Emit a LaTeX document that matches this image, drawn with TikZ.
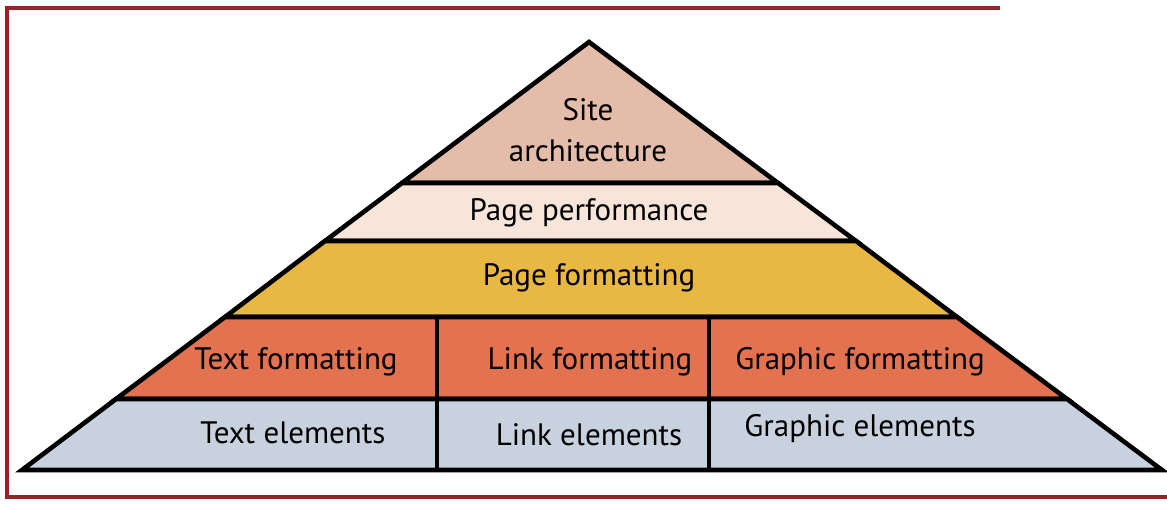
\documentclass[tikz,border=0pt]{standalone}
\usepackage{fontspec}
\setmainfont{PT Sans}
\definecolor{framered}{RGB}{150,35,40}
\definecolor{sitecol}{RGB}{228,188,170}
\definecolor{perfcol}{RGB}{246,229,216}
\definecolor{pagecol}{RGB}{232,184,66}
\definecolor{fmtcol}{RGB}{226,114,80}
\definecolor{elemcol}{RGB}{200,210,222}
\tikzset{
  layer/.style={draw=black, line width=2.3pt, line join=miter},
  label/.style={font=\fontsize{15.5}{18.5}\selectfont, align=center, inner sep=0pt}
}
\begin{document}
\begin{tikzpicture}[x=0.5pt, y=-0.5pt]
  \useasboundingbox (0,0) rectangle (1167,504);
  \fill[white] (0,0) rectangle (1167,504);

  % frame
  \draw[framered, line width=2pt] (1000,8) -- (7,8) -- (7,497) -- (1167,497);

  % corners of the pyramid bands
  \coordinate (apex) at (589,42);
  \coordinate (l1) at (402,183);  \coordinate (r1) at (778,183);
  \coordinate (l2) at (325,241);  \coordinate (r2) at (856,241);
  \coordinate (l3) at (225,317);  \coordinate (r3) at (957,317);
  \coordinate (l4) at (116,399);  \coordinate (r4) at (1067,399);
  \coordinate (l5) at (22,470);   \coordinate (r5) at (1162,470);

  % bands
  \draw[layer, fill=sitecol] (apex) -- (r1) -- (l1) -- cycle;
  \draw[layer, fill=perfcol] (l1) -- (r1) -- (r2) -- (l2) -- cycle;
  \draw[layer, fill=pagecol] (l2) -- (r2) -- (r3) -- (l3) -- cycle;
  \draw[layer, fill=fmtcol] (l3) -- (r3) -- (r4) -- (l4) -- cycle;
  \draw[layer, fill=elemcol] (l4) -- (r4) -- (r5) -- (l5) -- cycle;

  % dividers
  \coordinate (d1t) at (437,317);  \coordinate (d1b) at (437,470);
  \coordinate (d2t) at (709,317);  \coordinate (d2b) at (709,470);
  \draw[layer] (d1t) -- (d1b);
  \draw[layer] (d2t) -- (d2b);

  % labels
  \node[label] (site) at (588,130) {Site\\[2pt]architecture};
  \node[label] (perf) at (589,213) {Page performance};
  \node[label] (page) at (589,278) {Page formatting};
  \node[label] (textfmt) at (296,362) {Text formatting};
  \node[label] (linkfmt) at (590,362) {Link formatting};
  \node[label] (graphfmt) at (860,362) {Graphic formatting};
  \node[label] (textel) at (293,433) {Text elements};
  \node[label] (linkel) at (589,435) {Link elements};
  \node[label] (graphel) at (860,429) {Graphic elements};
\end{tikzpicture}
\end{document}
